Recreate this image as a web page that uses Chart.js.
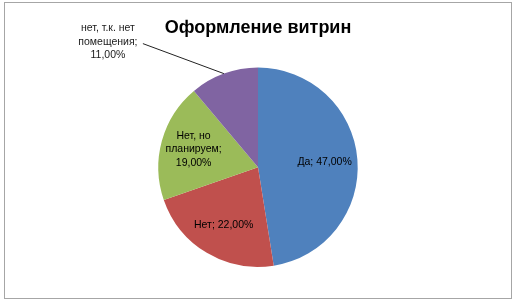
<!DOCTYPE html>
<html>
<head>
<meta charset="utf-8">
<script src="https://cdn.jsdelivr.net/npm/chart.js@4"></script>
<style>
  html, body { margin: 0; padding: 0; background: #fff; }
  #frame { position: absolute; left: 4px; top: 2px; width: 506px; height: 295px; border: 1px solid #a6a6a6; }
  canvas { position: absolute; left: 0; top: 0; }
</style>
</head>
<body>
<div id="frame"></div>
<canvas id="chart" width="514" height="301"></canvas>
<script>
// Data
const titleText = 'Оформление витрин';
const categories = ['Да', 'Нет', 'Нет, но планируем', 'нет, т.к. нет помещения'];
const values = [47, 22, 19, 11];
// label lines as shown in the picture
const labelLines = [
    ['Да; 47,00%'],
    ['Нет; 22,00%'],
    ['Нет, но', 'планируем;', '19,00%'],
    ['нет, т.к. нет', 'помещения;', '11,00%']
];
const colors = ['#4f81bd', '#c0504d', '#9bbb59', '#8064a2'];

// Draws Excel-like data labels; the small last slice gets an outside label with a leader line
const sliceLabels = {
    id: 'sliceLabels',
    afterDatasetsDraw(chart) {
        const ctx = chart.ctx;
        const arcs = chart.getDatasetMeta(0).data;
        ctx.save();
        ctx.font = '10.5px "Liberation Sans", Arial, sans-serif';
        ctx.textAlign = 'center';
        ctx.textBaseline = 'middle';
        const lh = 13.5;
        arcs.forEach((arc, i) => {
            const mid = (arc.startAngle + arc.endAngle) / 2;
            const lines = labelLines[i];
            if (i === arcs.length - 1) {
                // outside label
                const ex = arc.x + Math.cos(mid) * arc.outerRadius;
                const ey = arc.y + Math.sin(mid) * arc.outerRadius;
                const sx = ex - 81, sy = ey - 30;
                ctx.strokeStyle = '#222';
                ctx.lineWidth = 1;
                ctx.beginPath();
                ctx.moveTo(ex, ey);
                ctx.lineTo(sx, sy);
                ctx.stroke();
                ctx.fillStyle = '#1a1a1a';
                lines.forEach((t, k) => {
                    ctx.fillText(t, sx - 35, sy - 2 + (k - 1) * lh);
                });
            } else {
                const r = arc.outerRadius * 0.67;
                const x = arc.x + Math.cos(mid) * r;
                const y = arc.y + Math.sin(mid) * r;
                ctx.fillStyle = '#000';
                lines.forEach((t, k) => {
                    ctx.fillText(t, x, y + (k - (lines.length - 1) / 2) * lh);
                });
            }
        });
        ctx.restore();
    }
};

new Chart(document.getElementById('chart').getContext('2d'), {
    type: 'pie',
    data: {
        labels: categories,
        datasets: [{
            data: values,
            backgroundColor: colors,
            borderWidth: 0
        }]
    },
    options: {
        responsive: false,
        animation: false,
        layout: { padding: { left: 158, right: 156, top: 13, bottom: 34 } },
        plugins: {
            legend: { display: false },
            tooltip: { enabled: false },
            title: {
                display: true,
                text: titleText,
                color: '#000',
                font: { family: '"Liberation Sans", Arial, sans-serif', size: 18, weight: 'bold' },
                padding: { top: 4, bottom: 29 }
            }
        }
    },
    plugins: [sliceLabels]
});
</script>
</body>
</html>
